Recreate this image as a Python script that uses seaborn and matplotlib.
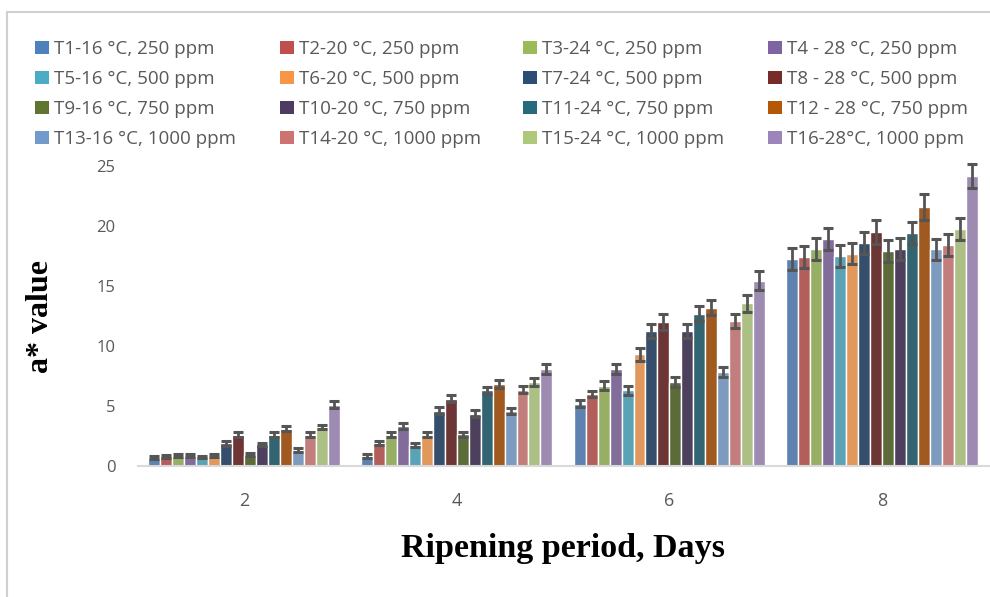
import matplotlib
matplotlib.use("Agg")
import matplotlib.pyplot as plt
from matplotlib.patches import Patch, Rectangle
from matplotlib.container import BarContainer
import seaborn as sns
import pandas as pd
import numpy as np

days = ["2", "4", "6", "8"]
treatments = [
    "T1-16 °C, 250 ppm", "T2-20 °C, 250 ppm", "T3-24 °C, 250 ppm", "T4 - 28 °C, 250 ppm",
    "T5-16 °C, 500 ppm", "T6-20 °C, 500 ppm", "T7-24 °C, 500 ppm", "T8 - 28 °C, 500 ppm",
    "T9-16 °C, 750 ppm", "T10-20 °C, 750 ppm", "T11-24 °C, 750 ppm", "T12 - 28 °C, 750 ppm",
    "T13-16 °C, 1000 ppm", "T14-20 °C, 1000 ppm", "T15-24 °C, 1000 ppm", "T16-28°C, 1000 ppm",
]
colors = ["#4F81BD", "#C0504D", "#9BBB59", "#8064A2",
          "#4BACC6", "#F79646", "#2C4D75", "#772C2A",
          "#5F7530", "#4D3B62", "#276A7C", "#B65708",
          "#729ACA", "#CD7371", "#AFC97A", "#9C85B8"]

day2 = [0.7, 0.8, 0.85, 0.85, 0.75, 0.85, 1.9, 2.6, 0.95, 1.8, 2.6, 3.1, 1.35, 2.6, 3.25, 5.1]
day4 = [0.85, 1.9, 2.6, 3.35, 1.75, 2.6, 4.6, 5.6, 2.65, 4.35, 6.3, 6.85, 4.6, 6.35, 7.0, 8.1]
day6 = [5.2, 6.0, 6.7, 8.1, 6.3, 9.3, 11.25, 12.0, 7.0, 11.25, 12.7, 13.2, 7.8, 12.1, 13.55, 15.45]
day8 = [17.25, 17.4, 18.1, 18.9, 17.5, 17.7, 18.6, 19.5, 17.9, 18.1, 19.4, 21.6, 18.05, 18.4, 19.75, 24.2]

err2 = [0.12, 0.12, 0.12, 0.12, 0.1, 0.12, 0.2, 0.2, 0.12, 0.15, 0.2, 0.2, 0.15, 0.2, 0.2, 0.3]
err4 = [0.15, 0.15, 0.2, 0.25, 0.15, 0.2, 0.3, 0.3, 0.2, 0.3, 0.3, 0.35, 0.25, 0.3, 0.35, 0.4]
err6 = [0.26, 0.28, 0.35, 0.39, 0.35, 0.53, 0.6, 0.65, 0.39, 0.55, 0.65, 0.62, 0.42, 0.58, 0.68, 0.8]
err8 = [0.9, 0.9, 0.9, 0.9, 0.9, 0.9, 0.9, 0.97, 0.9, 0.9, 0.9, 1.08, 0.9, 0.9, 0.94, 1.0]

values = [day2, day4, day6, day8]
errors = [err2, err4, err6, err8]

rows = []
for d, vals, errs in zip(days, values, errors):
    for t, v, e in zip(treatments, vals, errs):
        rows.append({"day": d, "treatment": t, "value": v, "err": e})
df = pd.DataFrame(rows)

sns.set_style("white")
plt.rcParams["font.family"] = ["Open Sans", "DejaVu Sans"]

fig = plt.figure(figsize=(9.9, 5.97), dpi=100)
ax = fig.add_axes([0.139, 0.2194, 0.8595, 0.5025])

sns.barplot(data=df, x="day", y="value", hue="treatment", order=days,
            hue_order=treatments, palette=colors, width=0.9, errorbar=None,
            edgecolor="white", linewidth=1.0, ax=ax, legend=False)

# error bars from bar geometry
bar_conts = [c for c in ax.containers if isinstance(c, BarContainer)]
for ti, cont in enumerate(bar_conts):
    for di, bar in enumerate(cont.patches):
        xc = bar.get_x() + bar.get_width() / 2
        h = bar.get_height()
        ax.errorbar(xc, h, yerr=errors[di][ti], fmt="none", ecolor="#555555",
                    elinewidth=2.0, capsize=3.8, capthick=2.2, clip_on=False, zorder=5)

ax.set_ylim(0, 25)
ax.set_yticks([0, 5, 10, 15, 20, 25])
ax.set_xlim(-0.5, 3.5)
for s in ["top", "right", "left"]:
    ax.spines[s].set_visible(False)
ax.spines["bottom"].set_color("#d9d9d9")
ax.spines["bottom"].set_linewidth(1.5)
ax.tick_params(axis="y", length=0, pad=16, labelsize=12, labelcolor="#595959")
ax.tick_params(axis="x", length=0, pad=19, labelsize=13, labelcolor="#595959")

ax.set_xlabel("Ripening period, Days", family="Liberation Serif", fontweight="bold",
              fontsize=24.5, color="black")
ax.xaxis.set_label_coords(0.5, (466 - 557) / 300)
ax.xaxis.label.set_va("baseline")
ax.set_ylabel("a* value", family="Liberation Serif", fontweight="bold",
              fontsize=23, color="black")
ax.yaxis.set_label_coords((40 - 137.5) / 851, 0.497)
ax.yaxis.label.set_va("center")

# legend: four columns, each its own legend, filled row-wise
col_x = [35, 280, 523, 768]
for c in range(4):
    hs = [Patch(facecolor=colors[r * 4 + c], edgecolor="none", label=treatments[r * 4 + c])
          for r in range(4)]
    leg = fig.legend(handles=hs, loc="upper left", ncol=1,
                     bbox_to_anchor=(col_x[c] / 990, 1 - 40 / 597), frameon=False,
                     fontsize=13.5, labelcolor="#595959", handlelength=0.75,
                     handleheight=0.65, handletextpad=0.25, labelspacing=0.64,
                     borderaxespad=0, borderpad=0)

fig.patches.append(Rectangle((7 / 990, -0.05), 1.2, 1 - 12 / 597 + 0.05,
                             transform=fig.transFigure, fill=False,
                             edgecolor="#d0d0d0", linewidth=1.5))

fig.savefig("out.png", dpi=100)
